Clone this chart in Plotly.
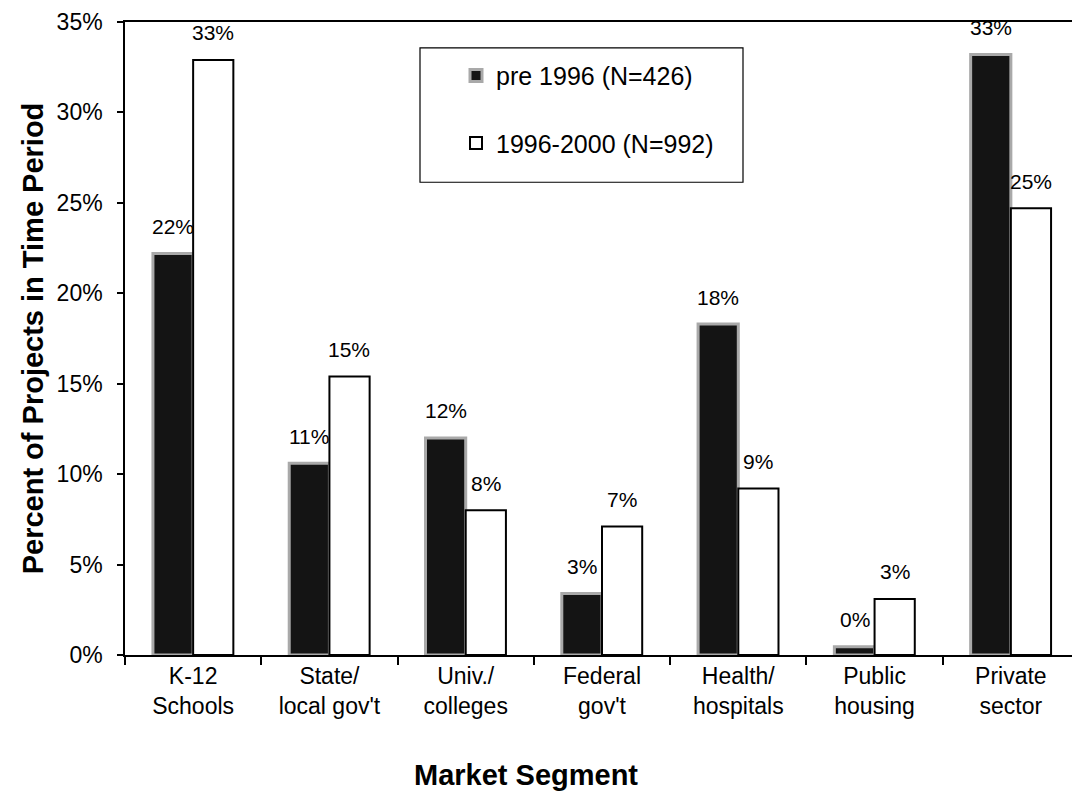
import plotly.graph_objects as go

categories = ["K-12<br>Schools", "State/<br>local gov't", "Univ./<br>colleges", "Federal<br>gov't",
              "Health/<br>hospitals", "Public<br>housing", "Private<br>sector"]
pre1996 = [22.2, 10.6, 12.0, 3.4, 18.3, 0.45, 33.2]
y1996_2000 = [32.9, 15.4, 8.0, 7.1, 9.2, 3.1, 24.7]
series_names = ["pre 1996 (N=426)", "1996-2000 (N=992)"]
y_ticks = [0, 5, 10, 15, 20, 25, 30, 35]

FONT = "Liberation Sans, Arial, sans-serif"

# page body has an 8px margin: figure occupies 8..1080 x 8..793
W, H = 1072, 785
PL, PR, PT, PB = 117, 1, 11, 138
PW = W - PL - PR
PH = H - PT - PB

def px_x(x):  # screen px -> paper
    return (x - 8 - PL) / PW

def px_y(y):
    return (H - PB - (y - 8)) / PH

fig = go.Figure()
fig.add_trace(go.Bar(
    x=categories, y=pre1996, name=series_names[0], legendgroup="a",
    marker=dict(color="#141414", line=dict(color="#a9a9a9", width=3)),
))
fig.add_trace(go.Bar(
    x=categories, y=y1996_2000, name=series_names[1], legendgroup="b",
    marker=dict(color="#ffffff", line=dict(color="#000000", width=2)),
))

annotations = []
for cat, v1, v2 in zip(categories, pre1996, y1996_2000):
    for v, sh in ((v1, -20), (v2, 20)):
        annotations.append(dict(
            x=cat, y=v, xref="x", yref="y", text=f"{round(v):d}%", showarrow=False,
            xshift=sh, yshift=27, yanchor="middle", xanchor="center",
            font=dict(family=FONT, size=21, color="#000"),
        ))
annotations.append(dict(
    x=px_x(526), y=px_y(776), xref="paper", yref="paper", text="<b>Market Segment</b>",
    showarrow=False, xanchor="center", yanchor="middle",
    font=dict(family=FONT, size=29, color="#000"),
))

fig.update_layout(
    width=W, height=H,
    margin=dict(l=PL, r=PR, t=PT, b=PB),
    paper_bgcolor="white", plot_bgcolor="white",
    font=dict(family=FONT, color="#000"),
    barmode="group", bargap=0.41, bargroupgap=0.0,
    showlegend=True,
    legend=dict(
        x=px_x(456), y=px_y(50), xanchor="left", yanchor="top",
        bgcolor="rgba(0,0,0,0)", borderwidth=0,
        font=dict(family=FONT, size=25, color="#000"),
        tracegroupgap=32, traceorder="grouped",
    ),
    annotations=annotations,
    shapes=[dict(type="rect", xref="paper", yref="paper",
                 x0=px_x(420), x1=px_x(743), y0=px_y(180), y1=px_y(45),
                 line=dict(color="#000", width=1.2), fillcolor="rgba(0,0,0,0)", layer="above")],
    xaxis=dict(
        showline=True, linecolor="#000", linewidth=1.5, mirror=True,
        ticks="outside", ticklen=8, tickcolor="#000", tickwidth=1.5,
        tickson="boundaries", showgrid=False,
        tickfont=dict(family=FONT, size=23, color="#000"),
    ),
    yaxis=dict(
        range=[0, 35], tickvals=y_ticks, ticktext=[f"{t}%" for t in y_ticks],
        showline=True, linecolor="#000", linewidth=1.5,
        ticks="outside", ticklen=6, tickcolor="#000", tickwidth=1.5,
        ticklabelstandoff=10, ticklabeloverflow="allow",
        showgrid=False, zeroline=False,
        tickfont=dict(family=FONT, size=23, color="#000"),
        title=dict(text="<b>Percent of Projects in Time Period</b>", font=dict(family=FONT, size=29, color="#000"), standoff=4),
    ),
)

fig.write_html("out.html")
